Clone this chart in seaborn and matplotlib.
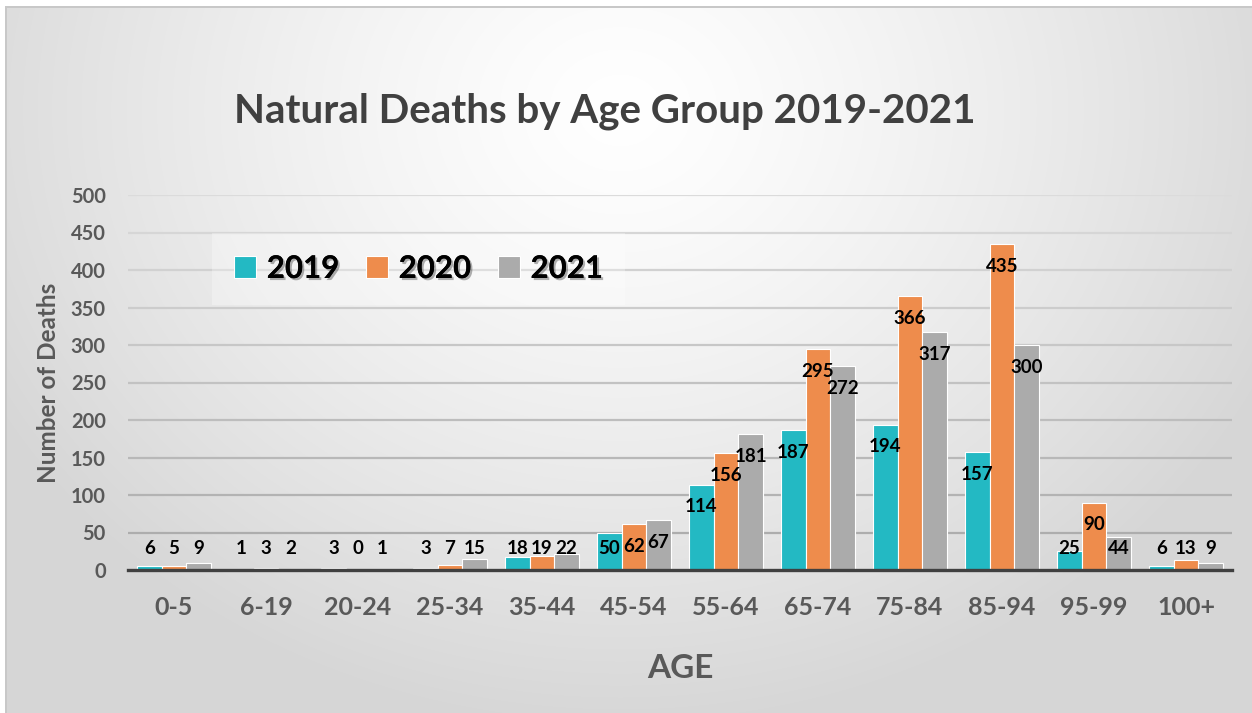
import numpy as np
import pandas as pd
import matplotlib
matplotlib.use("Agg")
import matplotlib.pyplot as plt
import matplotlib.patheffects as pe
from matplotlib.patches import Rectangle
import seaborn as sns

# data
age_groups = ["0-5", "6-19", "20-24", "25-34", "35-44", "45-54",
              "55-64", "65-74", "75-84", "85-94", "95-99", "100+"]
years = ["2019", "2020", "2021"]
deaths_2019 = [6, 1, 3, 3, 18, 50, 114, 187, 194, 157, 25, 6]
deaths_2020 = [5, 3, 0, 7, 19, 62, 156, 295, 366, 435, 90, 13]
deaths_2021 = [9, 2, 1, 15, 22, 67, 181, 272, 317, 300, 44, 9]
y_ticks = [0, 50, 100, 150, 200, 250, 300, 350, 400, 450, 500]

colors = ["#23B9C3", "#EE8C4C", "#ABABAB"]
text_grey = "#595959"

df = pd.DataFrame({
    "age": age_groups * 3,
    "deaths": deaths_2019 + deaths_2020 + deaths_2021,
    "year": [y for y in years for _ in age_groups],
})

sns.set_theme(style="white")
plt.rcParams["font.family"] = ["Lato", "DejaVu Sans"]
plt.rcParams["font.weight"] = "bold"

W, H = 1252, 713
fig = plt.figure(figsize=(W / 100, H / 100), dpi=100)
fig.patch.set_facecolor("white")

# soft radial background like the slide
yy, xx = np.mgrid[0:H, 0:W]
r = np.sqrt(((xx - 620) / 720.0) ** 2 + ((yy - 110) / 620.0) ** 2)
shade = 1.0 - 0.16 * np.clip(r, 0, 1) ** 1.3
bg = np.dstack([shade, shade, shade])
fig.figimage(bg, xo=0, yo=0, origin="upper", zorder=-10)

# white margin + shadow line at top/left
fig.add_artist(Rectangle((0, 1 - 6 / H), 1, 6 / H, transform=fig.transFigure,
                         facecolor="white", edgecolor="none", zorder=-5))
fig.add_artist(Rectangle((0, 0), 5 / W, 1, transform=fig.transFigure,
                         facecolor="white", edgecolor="none", zorder=-5))
fig.add_artist(Rectangle((5 / W, 0), 2 / W, 1 - 6 / H, transform=fig.transFigure,
                         facecolor="#C8C8C8", edgecolor="none", zorder=-5))
fig.add_artist(Rectangle((5 / W, 1 - 8 / H), 1, 2 / H, transform=fig.transFigure,
                         facecolor="#C8C8C8", edgecolor="none", zorder=-5))

ax = fig.add_axes([128 / W, (H - 570) / H, 1104 / W, 375 / H])
ax.set_facecolor("none")
ax.patch.set_alpha(0)

# gridlines, getting darker toward the bottom
for t in y_ticks[1:]:
    g = 0.66 + 0.2 * (t / 500)
    ax.axhline(t, color=(g, g, g), lw=1.6, zorder=0)

sns.barplot(data=df, x="age", y="deaths", hue="year", palette=colors,
            saturation=1, width=0.8, edgecolor="white", linewidth=0.8,
            ax=ax, zorder=2)

ax.set_xlim(-0.5, 11.5)
ax.set_ylim(0, 500)
ax.set_yticks(y_ticks)
ax.tick_params(axis="y", labelsize=14.5, labelcolor=text_grey, pad=16, length=0)
ax.tick_params(axis="x", labelsize=18, labelcolor=text_grey, pad=19, length=0)
for lab in ax.get_xticklabels() + ax.get_yticklabels():
    lab.set_fontweight("bold")

for s in ["top", "right", "left"]:
    ax.spines[s].set_visible(False)
ax.spines["bottom"].set_color("#404040")
ax.spines["bottom"].set_linewidth(2.4)
ax.spines["bottom"].set_zorder(3)

# value labels
for cont, vals in zip(ax.containers, [deaths_2019, deaths_2020, deaths_2021]):
    for bar, v in zip(cont, vals):
        xc = bar.get_x() + bar.get_width() / 2
        ax.text(xc, max(v - 30, 29), str(v), ha="center", va="center",
                fontsize=13.5, fontweight="bold", color="black", zorder=4)

ax.set_xlabel("AGE", fontsize=24, fontweight="bold", color=text_grey, labelpad=25)
ax.set_ylabel("Number of Deaths", fontsize=17.5, fontweight="bold", color=text_grey,
              labelpad=8)

leg = ax.legend(loc="upper left", bbox_to_anchor=(0.062, 0.94), ncol=3,
                fontsize=22.5, frameon=True, facecolor="white", framealpha=0.3,
                edgecolor="none", handlelength=0.7, handleheight=0.7,
                handletextpad=0.35, columnspacing=0.85, borderpad=0.7,
                fancybox=False, title=None)
for txt in leg.get_texts():
    txt.set_fontweight("bold")
    txt.set_color("black")
    txt.set_path_effects([pe.withSimplePatchShadow(offset=(1.5, -1.5),
                                                   shadow_rgbFace="black", alpha=0.3),
                          pe.Normal()])

fig.text(605 / W, 1 - 111 / H, "Natural Deaths by Age Group 2019-2021",
         ha="center", va="center", fontsize=29, fontweight="bold", color="#404040")

fig.savefig("out.png", dpi=100)
